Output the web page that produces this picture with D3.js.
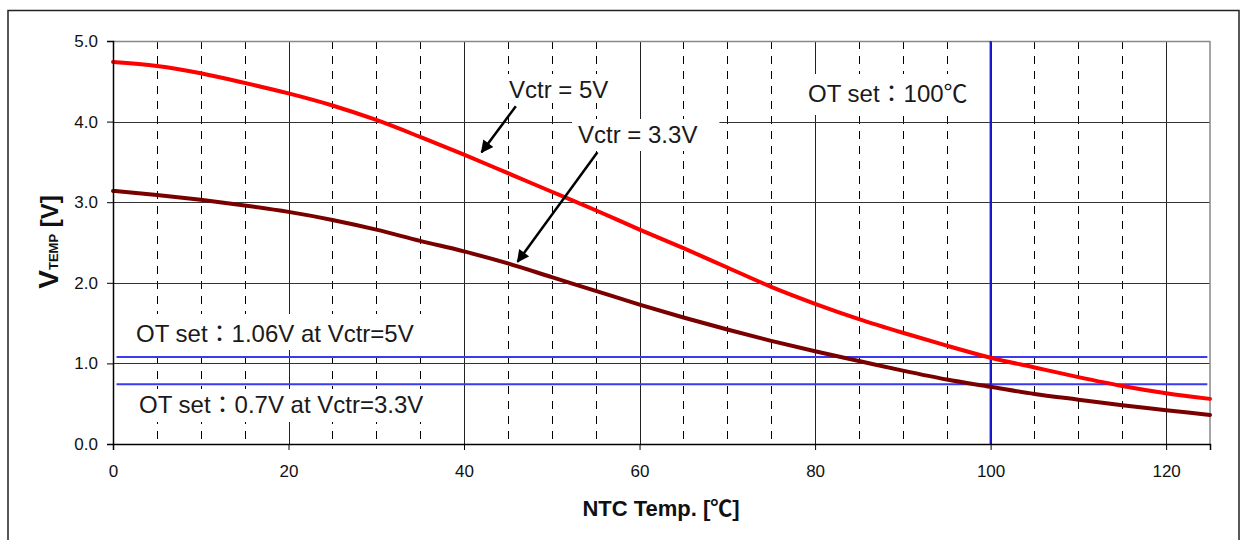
<!DOCTYPE html>
<html>
<head>
<meta charset="utf-8">
<script src="https://cdn.jsdelivr.net/npm/d3@7"></script>
<style>
html,body{margin:0;padding:0;background:#fff;}
svg{display:block;}
text{font-family:"Liberation Sans",Arial,"Noto Sans CJK KR",sans-serif;}
</style>
</head>
<body>
<svg id="chart" width="1241" height="540"></svg>
<script>
// ---- data ----
const temps = [0,5,10,15,20,25,30,35,40,45,50,55,60,65,70,75,80,85,90,95,100,105,110,115,120,125];
const vtemp5V = [4.74,4.69,4.60,4.48,4.35,4.20,4.02,3.81,3.59,3.36,3.13,2.90,2.66,2.43,2.19,1.95,1.74,1.55,1.38,1.22,1.07,0.95,0.83,0.72,0.63,0.56];
const vtemp33V = [3.14,3.09,3.03,2.96,2.88,2.78,2.66,2.52,2.39,2.24,2.07,1.90,1.73,1.57,1.42,1.28,1.15,1.03,0.91,0.80,0.71,0.62,0.55,0.48,0.42,0.36];
const otTemp = 100;
const otLevels = [1.08, 0.74];
const xTicks = [0,20,40,60,80,100,120];
const xMinorTicks = [5,10,15,25,30,35,45,50,55,65,70,75,85,90,95,105,110,115];
const yTicks = [0,1,2,3,4,5];

const svg = d3.select("#chart");
const x = d3.scaleLinear().domain([0,125]).range([113,1210]);
const y = d3.scaleLinear().domain([0,5]).range([444,41]);

// outer frame
svg.append("rect").attr("x",8).attr("y",10.5).attr("width",1231).attr("height",560)
  .attr("fill","none").attr("stroke","#222").attr("stroke-width",1.5);

const g = svg.append("g");

// minor vertical dashed grid
g.selectAll(".vminor").data(xMinorTicks).join("line")
  .attr("x1",d=>Math.round(x(d))+0.5).attr("x2",d=>Math.round(x(d))+0.5)
  .attr("y1",y(5)).attr("y2",y(0))
  .attr("stroke","#000").attr("stroke-width",1).attr("stroke-dasharray","8,7");
// major vertical grid
g.selectAll(".vmajor").data(xTicks.filter(d=>d>0)).join("line")
  .attr("x1",d=>Math.round(x(d))+0.5).attr("x2",d=>Math.round(x(d))+0.5)
  .attr("y1",y(5)).attr("y2",y(0))
  .attr("stroke","#222").attr("stroke-width",1);
// horizontal grid
g.selectAll(".hgrid").data(yTicks.filter(d=>d>0 && d<5)).join("line")
  .attr("x1",x(0)).attr("x2",x(125))
  .attr("y1",d=>Math.round(y(d))+0.5).attr("y2",d=>Math.round(y(d))+0.5)
  .attr("stroke","#333").attr("stroke-width",1);

// top & right border
g.append("line").attr("x1",x(0)).attr("x2",x(125)).attr("y1",y(5)+0.5).attr("y2",y(5)+0.5)
  .attr("stroke","#888").attr("stroke-width",1.5);
g.append("line").attr("x1",x(125)).attr("x2",x(125)).attr("y1",y(5)).attr("y2",y(0))
  .attr("stroke","#888").attr("stroke-width",1.5);

// label boxes + text (white background hides grid)
const labelFont = 24;
const labels = [
  {t:"Vctr = 5V", x:509, y:98, padL:8, padR:8, padT:2, padB:0},
  {t:"Vctr = 3.3V", x:578, y:143, padL:6, padR:22, padT:2, padB:3},
  {t:"OT set\uFF1A100\u2103", x:808, y:102, padL:8, padR:8, padT:6, padB:8},
  {t:"OT set\uFF1A1.06V at Vctr=5V", x:136, y:342, padL:10, padR:10, padT:6, padB:3},
  {t:"OT set\uFF1A0.7V at Vctr=3.3V", x:139, y:413, padL:10, padR:10, padT:2, padB:4}
];
const boxLayer = g.append("g");
const lineLayer = g.append("g");
const textLayer = g.append("g");
labels.forEach(l=>{
  const t = textLayer.append("text").attr("x",l.x).attr("y",l.y)
    .attr("font-size",labelFont).attr("fill","#1a1a1a").text(l.t);
  const bb = t.node().getBBox();
  boxLayer.append("rect").attr("x",bb.x-l.padL).attr("y",bb.y-l.padT)
    .attr("width",bb.width+l.padL+l.padR).attr("height",bb.height+l.padT+l.padB)
    .attr("fill","#fff");
});

// OT reference lines
lineLayer.selectAll(".ot").data(otLevels).join("line")
  .attr("x1",x(0.4)).attr("x2",x(124.7))
  .attr("y1",d=>y(d)).attr("y2",d=>y(d))
  .attr("stroke","#3a3af0").attr("stroke-width",2);
lineLayer.append("line").attr("x1",x(otTemp)).attr("x2",x(otTemp))
  .attr("y1",y(5)).attr("y2",y(0))
  .attr("stroke","#1a1ad0").attr("stroke-width",2);

// curves
const line = d3.line().x(d=>x(d[0])).y(d=>y(d[1])).curve(d3.curveMonotoneX);
lineLayer.append("path").datum(temps.map((t,i)=>[t,vtemp33V[i]]))
  .attr("d",line).attr("fill","none").attr("stroke","#7a0000").attr("stroke-width",4)
  .attr("stroke-linejoin","round").attr("stroke-linecap","round");
lineLayer.append("path").datum(temps.map((t,i)=>[t,vtemp5V[i]]))
  .attr("d",line).attr("fill","none").attr("stroke","#ff0000").attr("stroke-width",4)
  .attr("stroke-linejoin","round").attr("stroke-linecap","round");

// axes
const xAxis = d3.axisBottom(x).tickValues(xTicks).tickSize(6).tickFormat(d3.format("d"));
const xg = svg.append("g").attr("transform",`translate(0,${y(0)})`).call(xAxis);
xg.select(".domain").attr("stroke","#000").attr("stroke-width",1.5);
xg.selectAll(".tick line").attr("stroke","#000");
xg.selectAll(".tick text").attr("font-size",17).attr("fill","#111").attr("y",21)
  .attr("font-family",'"Liberation Sans",Arial,sans-serif');

const yAxis = d3.axisLeft(y).tickValues(yTicks).tickSize(6).tickFormat(d3.format(".1f"));
const yg = svg.append("g").attr("transform",`translate(${x(0)},0)`).call(yAxis);
yg.select(".domain").attr("stroke","#000").attr("stroke-width",1.5);
yg.selectAll(".tick line").attr("stroke","#000");
yg.selectAll(".tick text").attr("font-size",17).attr("fill","#111").attr("x",-15)
  .attr("font-family",'"Liberation Sans",Arial,sans-serif');

// arrows
const defs = svg.append("defs");
defs.append("marker").attr("id","ah").attr("viewBox","0 0 10 10").attr("refX",9).attr("refY",5)
  .attr("markerWidth",5.5).attr("markerHeight",5).attr("markerUnits","strokeWidth").attr("orient","auto")
  .append("path").attr("d","M0,0 L10,5 L0,10 Z").attr("fill","#000");
const arrows = [
  {from:[45.9,4.19], to:[42.0,3.62]},
  {from:[55.2,3.62], to:[46.1,2.26]}
];
textLayer.selectAll(".arrow").data(arrows).join("line")
  .attr("x1",d=>x(d.from[0])).attr("y1",d=>y(d.from[1]))
  .attr("x2",d=>x(d.to[0])).attr("y2",d=>y(d.to[1]))
  .attr("stroke","#000").attr("stroke-width",2.5).attr("marker-end","url(#ah)");

// axis titles
svg.append("text").attr("x",661).attr("y",516).attr("text-anchor","middle")
  .attr("font-size",22).attr("font-weight","bold").attr("fill","#111")
  .text("NTC Temp. [\u2103]");
const yt = svg.append("text").attr("transform","translate(58,242) rotate(-90)")
  .attr("text-anchor","middle").attr("font-weight","bold").attr("fill","#111");
yt.append("tspan").attr("font-size",28).text("V");
yt.append("tspan").attr("font-size",13).text("TEMP");
yt.append("tspan").attr("font-size",24).text(" [V]");
</script>
</body>
</html>
